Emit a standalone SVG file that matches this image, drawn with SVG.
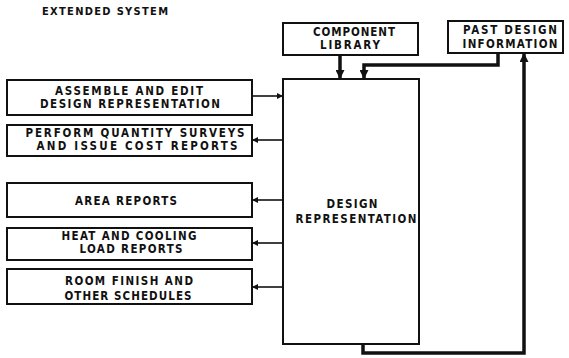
<svg xmlns="http://www.w3.org/2000/svg" width="569" height="358" viewBox="0 0 569 358">
<style>
.box{fill:#fff;stroke:#111;stroke-width:2}
.t{font-family:"Liberation Sans Narrow","DejaVu Sans Condensed","Liberation Sans",Arial,sans-serif;font-weight:bold;font-size:11.5px;fill:#111;text-anchor:middle}
.thin{fill:none;stroke:#111;stroke-width:1.6}
.thick{fill:none;stroke:#111;stroke-width:3.5}
</style>
<defs>
<marker id="a" viewBox="0 0 10 10" refX="10" refY="5" markerWidth="7" markerHeight="6" markerUnits="userSpaceOnUse" orient="auto"><path d="M0,0L10,5L0,10z" fill="#111"/></marker>
<marker id="b" viewBox="0 0 10 10" refX="10" refY="5" markerWidth="9" markerHeight="9" markerUnits="userSpaceOnUse" orient="auto"><path d="M0,0L10,5L0,10z" fill="#111"/></marker>
</defs>
<text class="t" x="105" y="15" textLength="126" lengthAdjust="spacing" style="font-size:11px">EXTENDED SYSTEM</text>
<g id="component-library"><rect class="box" x="283" y="23" width="135" height="32"/><text class="t" x="354" y="36" textLength="82" lengthAdjust="spacing">COMPONENT</text><text class="t" x="350" y="49" textLength="60" lengthAdjust="spacing">LIBRARY</text></g>
<g id="past-design"><rect class="box" x="448" y="21" width="115" height="32"/><text class="t" x="510" y="34" textLength="94" lengthAdjust="spacing">PAST DESIGN</text><text class="t" x="510" y="48" textLength="95" lengthAdjust="spacing">INFORMATION</text></g>
<g id="design-rep"><rect class="box" x="283" y="79" width="136" height="265"/><text class="t" x="352" y="208" textLength="51" lengthAdjust="spacing">DESIGN</text><text class="t" x="356" y="223" textLength="121" lengthAdjust="spacing">REPRESENTATION</text></g>
<g id="assemble"><rect class="box" x="7" y="80" width="245" height="35"/><text class="t" x="129" y="95" textLength="148" lengthAdjust="spacing">ASSEMBLE AND EDIT</text><text class="t" x="130" y="108" textLength="180" lengthAdjust="spacing">DESIGN REPRESENTATION</text></g>
<g id="quantity"><rect class="box" x="7" y="125" width="245" height="31"/><text class="t" x="135" y="137" textLength="219" lengthAdjust="spacing">PERFORM QUANTITY SURVEYS</text><text class="t" x="137" y="150" textLength="201" lengthAdjust="spacing">AND ISSUE COST REPORTS</text></g>
<g id="area"><rect class="box" x="7" y="183" width="245" height="34"/><text class="t" x="126" y="205" textLength="102" lengthAdjust="spacing">AREA REPORTS</text></g>
<g id="heat"><rect class="box" x="7" y="228" width="245" height="32"/><text class="t" x="129" y="240" textLength="135" lengthAdjust="spacing">HEAT AND COOLING</text><text class="t" x="131" y="253" textLength="103" lengthAdjust="spacing">LOAD REPORTS</text></g>
<g id="room"><rect class="box" x="7" y="269" width="245" height="35"/><text class="t" x="129" y="285" textLength="128" lengthAdjust="spacing">ROOM FINISH AND</text><text class="t" x="128" y="300" textLength="127" lengthAdjust="spacing">OTHER SCHEDULES</text></g>
<g id="connectors">
<path class="thin" d="M252,96H283" marker-end="url(#a)"/>
<path class="thin" d="M283,140H252" marker-end="url(#a)"/>
<path class="thin" d="M283,200H252" marker-end="url(#a)"/>
<path class="thin" d="M283,243H252" marker-end="url(#a)"/>
<path class="thin" d="M283,287H252" marker-end="url(#a)"/>
<path class="thick" d="M340,55V79" marker-end="url(#b)"/>
<path class="thick" d="M498,53V65H364V79" marker-end="url(#b)"/>
<path class="thick" d="M363,344V353H524V53" marker-end="url(#b)"/>
</g>
</svg>
